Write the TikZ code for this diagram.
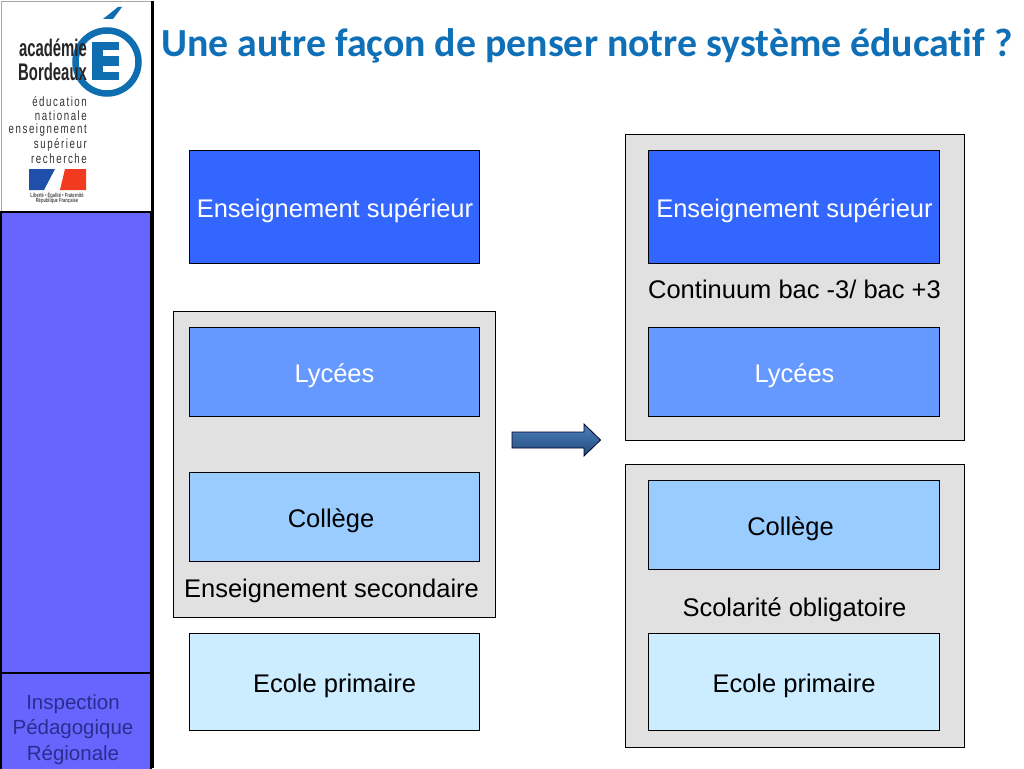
\documentclass[tikz,border=0pt]{standalone}
\usepackage{fontspec}
\setmainfont{Liberation Sans}
\newfontfamily\titlefont[Ligatures=NoCommon]{Carlito}
\newfontfamily\logofont[LetterSpace=16]{Liberation Sans}
\usetikzlibrary{shadings}
\definecolor{titleblue}{HTML}{0F6FB7}
\definecolor{logoblue}{HTML}{0E6EB0}
\definecolor{panelgrey}{HTML}{E1E1E1}
\definecolor{barblue}{HTML}{6666FF}
\definecolor{supblue}{HTML}{3366FF}
\definecolor{lycblue}{HTML}{6699FF}
\definecolor{colblue}{HTML}{99CCFF}
\definecolor{priblue}{HTML}{CCECFF}
\definecolor{ipr}{HTML}{2C2C90}
\definecolor{flagblue}{HTML}{1F4FA8}
\definecolor{flagred}{HTML}{F23A1E}
\definecolor{arrowtop}{HTML}{4F81BD}
\definecolor{arrowbot}{HTML}{1F4A7C}
\tikzset{
  panel/.style={draw=black,line width=0.7pt,fill=panelgrey},
  levelbox/.style={draw=black,line width=0.7pt,align=center},
  lbl/.style={font=\fontsize{25.5}{28}\selectfont,text=black,inner sep=0pt},
  lblw/.style={font=\fontsize{25.5}{28}\selectfont,text=white,inner sep=0pt},
  logoline/.style={font=\logofont\fontsize{13.5}{14}\selectfont,text=black!80,inner sep=0pt,anchor=east,xscale=0.72,transform shape},
  logobig/.style={font=\bfseries\fontsize{24}{25}\selectfont,text=black!85,inner sep=0pt,anchor=east,xscale=0.62,transform shape},
  logotiny/.style={font=\bfseries\fontsize{6}{6}\selectfont,text=black!70,inner sep=0pt,xscale=0.68,transform shape},
  iprtext/.style={font=\fontsize{20.5}{24}\selectfont,text=ipr,inner sep=0pt}
}
\begin{document}
\begin{tikzpicture}[x=1pt,y=-1pt]
\useasboundingbox (0,0) rectangle (1024,768);
\fill[white] (0,0) rectangle (1024,768);
% left bar
\draw[line width=0.8pt,draw=black!35] (1,1) -- (151,1);
\draw[line width=0.8pt,draw=black!35] (1,1) -- (1,211);
\draw[line width=2pt,fill=barblue] (1,212) rectangle (151,673);
\draw[line width=2.4pt,fill=barblue] (1,673) rectangle (151,772);
\draw[line width=3pt] (152,1) -- (152,768);
\node[iprtext] (ipr1) at (73,704.5) {Inspection};
\node[iprtext] (ipr2) at (73,729.5) {Pédagogique};
\node[iprtext] (ipr3) at (73,755.5) {Régionale};
% logo
\draw[logoblue,line width=6.5pt] (107,62) circle (31.5);
\fill[logoblue] (92,42) rectangle (119,80);
\fill[white] (103,50.5) rectangle (120,56.5);
\fill[white] (103,65.5) rectangle (120,71.5);
\fill[logoblue] (103,19) -- (118,7) -- (122,7) -- (113,19) -- cycle;
\node[logobig] (l1) at (87,48) {académie};
\node[logobig] (l2) at (87,72) {Bordeaux};
\node[logoline] (l3) at (87,102) {éducation};
\node[logoline] (l4) at (87,116) {nationale};
\node[logoline] (l5) at (87,130) {enseignement};
\node[logoline] (l6) at (87,145) {supérieur};
\node[logoline] (l7) at (87,159) {recherche};
\fill[flagblue] (29,169) -- (55,169) -- (44,190) -- (29,190) -- cycle;
\fill[flagred] (65,169) -- (86,169) -- (86,190) -- (60,190) -- cycle;
\node[logotiny] (l8) at (57,195) {Liberté • Égalité • Fraternité};
\node[logotiny] (l9) at (57,201) {République Française};
% title
\node[font=\titlefont\bfseries\fontsize{39.8}{42}\selectfont,text=titleblue,inner sep=0pt,anchor=west] (title) at (161,45.5) {Une autre façon de penser notre système éducatif ?};
% left column
\node[levelbox,fill=supblue,minimum width=290,minimum height=113,inner sep=0pt] (s1) at (334.5,206.5) {};
\node[panel,minimum width=322,minimum height=306,inner sep=0pt] (p1) at (334.5,464.5) {};
\node[levelbox,fill=lycblue,minimum width=290,minimum height=89,inner sep=0pt] (ly1) at (334.5,372) {};
\node[levelbox,fill=colblue,minimum width=290,minimum height=89,inner sep=0pt] (co1) at (334.5,517) {};
\node[levelbox,fill=priblue,minimum width=290,minimum height=97,inner sep=0pt] (pr1) at (334.5,682) {};
\node[lblw] at (335,210.5) {Enseignement supérieur};
\node[lblw] at (334.5,375.5) {Lycées};
\node[lbl] at (331,520.5) {Collège};
\node[lbl] at (331.5,590.5) {Enseignement secondaire};
\node[lbl] at (334.5,685.5) {Ecole primaire};
% right column
\node[panel,minimum width=339,minimum height=306,inner sep=0pt] (p2) at (794.5,287) {};
\node[panel,minimum width=339,minimum height=283,inner sep=0pt] (p3) at (794.5,605.5) {};
\node[levelbox,fill=supblue,minimum width=291,minimum height=113,inner sep=0pt] (s2) at (794,206.5) {};
\node[levelbox,fill=lycblue,minimum width=291,minimum height=89,inner sep=0pt] (ly2) at (794,372) {};
\node[levelbox,fill=colblue,minimum width=291,minimum height=89,inner sep=0pt] (co2) at (794,525) {};
\node[levelbox,fill=priblue,minimum width=291,minimum height=97,inner sep=0pt] (pr2) at (794,682) {};
\node[lblw] at (794.5,210.5) {Enseignement supérieur};
\node[lbl] at (794.5,289) {Continuum bac -3/ bac +3};
\node[lblw] at (794.5,375.5) {Lycées};
\node[lbl] at (790.5,528.5) {Collège};
\node[lbl] at (794.5,609.5) {Scolarité obligatoire};
\node[lbl] at (794,685.5) {Ecole primaire};
% arrow
\draw[line width=0.8pt,draw=black!85!blue,top color=arrowtop,bottom color=arrowbot]
  (512,432) -- (584,432) -- (584,424) -- (600.5,440) -- (584,456) -- (584,448) -- (512,448) -- cycle;
\end{tikzpicture}
\end{document}
